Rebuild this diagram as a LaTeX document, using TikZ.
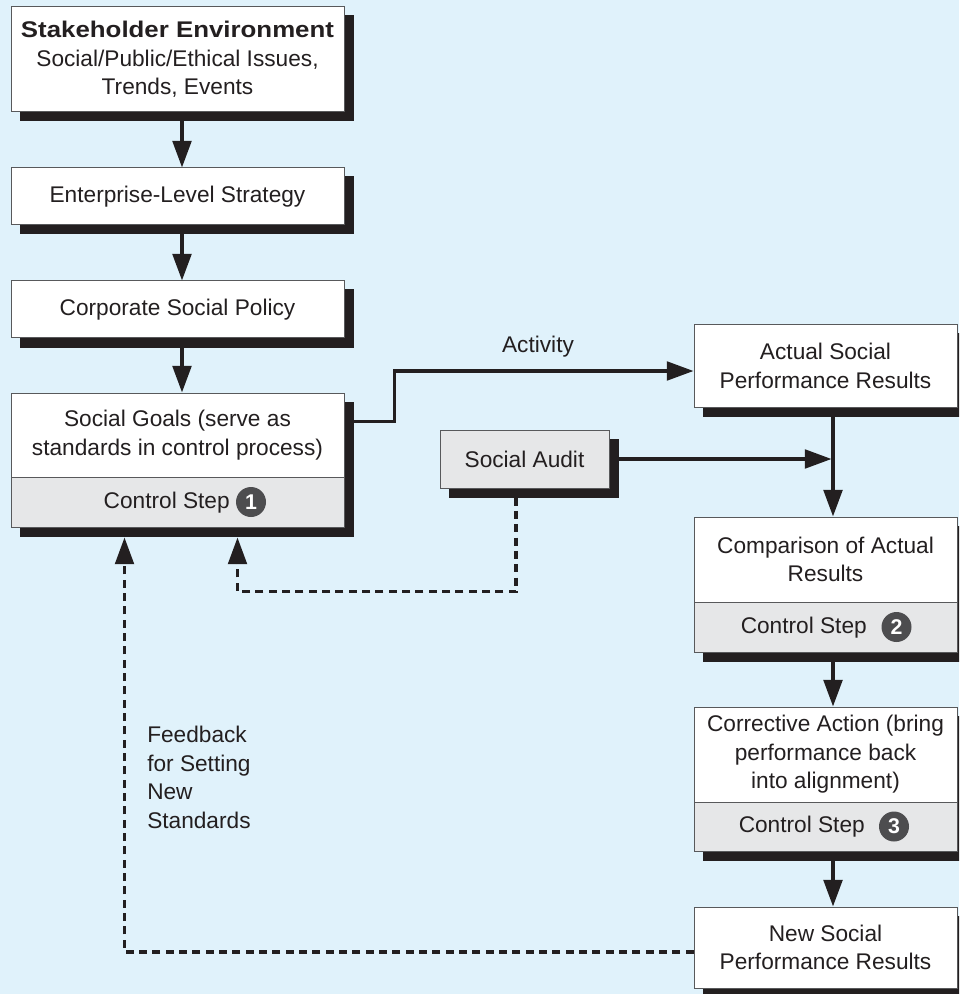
\documentclass[tikz,border=0pt]{standalone}
\usepackage{fontspec}
\setmainfont{Liberation Sans}
\usetikzlibrary{arrows.meta,calc}
\definecolor{bgc}{RGB}{224,242,251}
\definecolor{grayc}{RGB}{230,231,232}
\definecolor{bordc}{RGB}{88,89,91}
\definecolor{inkc}{RGB}{35,31,32}
\definecolor{numc}{RGB}{77,77,79}
\pgfdeclarelayer{bglayer}
\pgfdeclarelayer{shadowlayer}
\pgfsetlayers{bglayer,shadowlayer,main}
\begin{document}
\begin{tikzpicture}[x=0.75pt,y=-0.75pt,
  every node/.style={text=inkc},
  fs/.style={font=\fontsize{17}{21.4}\selectfont},
  box/.style={draw=bordc, line width=0.75pt, fill=white, align=center, inner sep=0pt, fs},
  graybox/.style={box, fill=grayc},
  arr/.style={draw=inkc, line width=2.6pt, -{Triangle[length=20pt,width=14pt]}},
  darr/.style={arr, line width=2.4pt, dash pattern=on 6pt off 4pt},
  num/.style={circle, fill=numc, text=white, inner sep=0pt, minimum size=22.5pt, font=\fontsize{16}{16}\selectfont\bfseries},
  lbl/.style={fs, inner sep=0pt}
]
\useasboundingbox (0,0) rectangle (959,994);
\begin{pgfonlayer}{bglayer}
\fill[bgc] (0,0) rectangle (959,994);
\end{pgfonlayer}

% left column
\node[box, minimum width=249.75pt, minimum height=78.75pt] (b1) at (177.5,59.5)
  {\scalebox{1.14}[1]{\bfseries Stakeholder Environment}\\Social/Public/Ethical Issues,\\Trends, Events};
\node[box, minimum width=249.75pt, minimum height=42.75pt] (b2) at (177.5,196.5) {Enterprise-Level Strategy};
\node[box, minimum width=249.75pt, minimum height=42.75pt] (b3) at (177.5,309.5) {Corporate Social Policy};
\node[box, minimum width=249.75pt, minimum height=63pt] (b4t) at (177.5,435) {Social Goals (serve as\\standards in control process)};
\node[graybox, minimum width=249.75pt, minimum height=37.5pt] (b4b) at (177.5,502) {};
\node[lbl, anchor=base east] (cs1) at (230,508) {Control Step};
\node[num] (n1) at (251,502) {1};

% social audit
\node[graybox, minimum width=126.75pt, minimum height=43.5pt] (sa) at (524.5,459) {Social Audit};

% right column
\node[box, minimum width=197.25pt, minimum height=61.5pt] (act) at (825.5,366) {Actual Social\\Performance Results};
\node[box, minimum width=197.25pt, minimum height=63.75pt] (cmpt) at (825.5,559.5) {Comparison of Actual\\Results};
\node[graybox, minimum width=197.25pt, minimum height=37.5pt] (cmpb) at (825.5,627) {};
\node[lbl, anchor=base east] (cs2) at (867,633) {Control Step};
\node[num] (n2) at (896.5,627) {2};
\node[box, minimum width=197.25pt, minimum height=71.25pt] (cort) at (825.5,754.5) {Corrective Action (bring\\performance back\\into alignment)};
\node[graybox, minimum width=197.25pt, minimum height=36.75pt] (corb) at (825.5,826.5) {};
\node[lbl, anchor=base east] (cs3) at (865,832.5) {Control Step};
\node[num] (n3) at (894,826.5) {3};
\node[box, minimum width=197.25pt, minimum height=60.75pt] (new) at (825.5,947.5) {New Social\\Performance Results};

% labels
\node[lbl] (actlbl) at (538,347) {Activity};
\node[lbl, anchor=west, align=left] (fb) at (147,777.5) {Feedback\\for Setting\\New\\Standards};

% shadows
\begin{pgfonlayer}{shadowlayer}
\clip (0,0) rectangle (959,994);
\foreach \a/\b in {b1/b1,b2/b2,b3/b3,b4t/b4b,sa/sa,act/act,cmpt/cmpb,cort/corb,new/new}
  \fill[inkc] ($(\a.north west)+(9,9)$) rectangle ($(\b.south east)+(9,9)$);
\end{pgfonlayer}

% connectors
\draw[arr] ($(b1.south)+(4.5,9)$) -- ($(b2.north)+(4.5,0)$);
\draw[arr] ($(b2.south)+(4.5,9)$) -- ($(b3.north)+(4.5,0)$);
\draw[arr] ($(b3.south)+(4.5,9)$) -- ($(b4t.north)+(4.5,0)$);
\draw[arr, line width=2.4pt] ($(b4t.north east)+(9,29)$) -- ++(41,0) |- ($(act.west)+(0,5)$);
\coordinate (vx) at ($(act.south)+(7.5,9)$);
\draw[arr] (vx) -- ($(cmpt.north)+(7.5,0)$);
\draw[arr, line width=2.4pt] ($(sa.east)+(9,0)$) -- ($(sa.east -| vx)+(-1.5,0)$);
\draw[arr] ($(cmpb.south)+(7.5,9)$) -- ($(cort.north)+(7.5,0)$);
\draw[arr] ($(corb.south)+(7.5,9)$) -- ($(new.north)+(7.5,0)$);
\draw[darr] ($(sa.south)+(-8.5,9)$) -- ++(0,94) -| ($(b4b.south west)+(227,10)$);
\draw[darr] ($(new.west)+(0,4.5)$) -| ($(b4b.south west)+(114,10)$);
\end{tikzpicture}
\end{document}
